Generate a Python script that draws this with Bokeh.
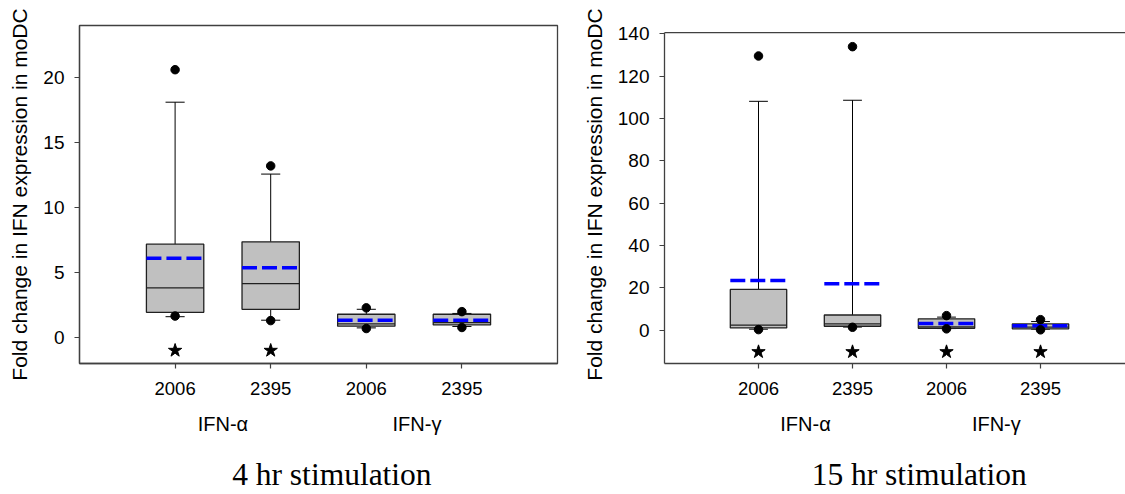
import numpy as np
from bokeh.plotting import figure
from bokeh.models import Range1d, FixedTicker, LinearAxis, Span
from bokeh.layouts import row
from bokeh.embed import file_html
from bokeh.resources import INLINE

# ---------------- data ----------------
positions = [1, 2, 3, 4]
tick_labels = ["2006", "2395", "2006", "2395"]
group_labels = ["IFN-α", "IFN-γ"]
group_pos = [1.5, 3.53]

# 4 hr stimulation
h4_q1 = [1.94, 2.17, 0.87, 0.97]
h4_med = [3.81, 4.14, 1.05, 1.15]
h4_q3 = [7.18, 7.36, 1.79, 1.79]
h4_lo = [1.60, 1.33, 0.74, 0.85]
h4_hi = [18.1, 12.57, 2.17, 1.85]
h4_mean = [6.10, 5.36, 1.33, 1.33]
h4_out_x = [1, 1, 2, 2, 3, 3, 4, 4]
h4_out_y = [20.6, 1.65, 13.2, 1.30, 2.28, 0.69, 1.99, 0.77]
h4_star_x = [1, 2]
h4_star_y = [-1.0, -1.0]

# 15 hr stimulation
h15_q1 = [1.1, 1.9, 0.95, 0.66]
h15_med = [2.4, 3.0, 1.6, 1.5]
h15_q3 = [19.3, 7.2, 5.4, 3.0]
h15_lo = [0.5, 1.5, 0.8, 0.5]
h15_hi = [108.1, 108.6, 6.2, 4.1]
h15_mean = [23.5, 22.0, 3.2, 2.07]
h15_out_x = [1, 1, 2, 2, 3, 3, 4, 4]
h15_out_y = [129.5, 0.3, 133.9, 1.4, 6.9, 0.66, 5.0, 0.2]
h15_star_x = [1, 2, 3, 4]
h15_star_y = [-10.2, -10.2, -10.2, -10.2]

SANS = "Liberation Sans"
SERIF = "Liberation Serif"
AXIS_COL = "#404040"


def draw_boxes(p, q1, med, q3, lo, hi, mean, ox, oy, sx, sy):
    x = np.array(positions, dtype=float)
    hw = 0.3
    cw = 0.1
    p.segment(x, q3, x, hi, line_color="black", line_width=1)
    p.segment(x, q1, x, lo, line_color="black", line_width=1)
    p.segment(x - cw, hi, x + cw, hi, line_color="black", line_width=1)
    p.segment(x - cw, lo, x + cw, lo, line_color="black", line_width=1)
    p.vbar(x=x, width=2 * hw, bottom=q1, top=q3, fill_color="#c0c0c0",
           line_color="#202020", line_width=1.3)
    p.segment(x - hw, med, x + hw, med, line_color="#202020", line_width=1.2)
    p.segment(x - hw, mean, x + hw, mean, line_color="#0000ff", line_width=3.5,
              line_dash="15 5")
    p.scatter(ox, oy, marker="circle", size=8.5, fill_color="black",
              line_color="black")
    p.scatter(sx, sy, marker="star", size=14, fill_color="black",
              line_color="black")


def text_axis(p, ticks, labels, font, size, standoff):
    ax = LinearAxis(ticker=FixedTicker(ticks=ticks),
                    major_label_overrides={t: l for t, l in zip(ticks, labels)},
                    axis_line_color=None, major_tick_line_color=None,
                    minor_tick_line_color=None, major_tick_out=0, major_tick_in=0,
                    major_label_standoff=standoff, major_label_text_font=font,
                    major_label_text_font_size=size, major_label_text_color="black")
    p.add_layout(ax, "below")


def style(p, yticks, label_standoff):
    p.xaxis.ticker = FixedTicker(ticks=positions)
    p.xaxis.major_label_overrides = {pos: lab for pos, lab in zip(positions, tick_labels)}
    p.yaxis.ticker = FixedTicker(ticks=yticks)
    for ax in (p.xaxis[0], p.yaxis[0]):
        ax.axis_line_color = AXIS_COL
        ax.axis_line_width = 1.3
        ax.major_tick_line_color = AXIS_COL
        ax.major_tick_line_width = 1.2
        ax.major_tick_out = 5
        ax.major_tick_in = 0
        ax.minor_tick_line_color = None
        ax.major_label_text_font = SANS
        ax.major_label_text_color = "black"
        ax.major_label_standoff = 10
    p.xaxis.major_label_standoff = 13
    p.xaxis.major_label_text_font_size = "18.5px"
    p.yaxis.major_label_text_font_size = "19px"
    p.yaxis.axis_label = "Fold change in IFN expression in moDC"
    p.yaxis.axis_label_text_font = SANS
    p.yaxis.axis_label_text_font_size = "21px"
    p.yaxis.axis_label_text_font_style = "normal"
    p.yaxis.axis_label_text_color = "black"
    p.yaxis.axis_label_standoff = label_standoff
    p.xgrid.visible = False
    p.ygrid.visible = False
    p.background_fill_color = "white"
    p.border_fill_color = "white"


# ---------------- left panel ----------------
p1 = figure(width=578, height=494, x_range=Range1d(0, 5), y_range=Range1d(-2, 24),
            output_backend="svg", toolbar_location=None,
            min_border_left=79, min_border_right=21, min_border_top=25,
            min_border_bottom=130)
style(p1, [0, 5, 10, 15, 20], 9)
p1.outline_line_color = AXIS_COL
p1.outline_line_width = 1.3
draw_boxes(p1, h4_q1, h4_med, h4_q3, h4_lo, h4_hi, h4_mean,
           h4_out_x, h4_out_y, h4_star_x, h4_star_y)
text_axis(p1, group_pos, group_labels, SANS, "20px", 15)
text_axis(p1, [2.64], ["4 hr stimulation"], SERIF, "31.5px", 19)

# ---------------- right panel ----------------
p2 = figure(width=547, height=494, x_range=Range1d(0, 4.904),
            y_range=Range1d(-15.7, 143.9),
            output_backend="svg", toolbar_location=None,
            min_border_left=86, min_border_right=0, min_border_top=25,
            min_border_bottom=130)
style(p2, [0, 20, 40, 60, 80, 100, 120, 140], 9)
p2.outline_line_color = None
p2.yaxis.bounds = (-15.7, 140.5)
p2.add_layout(Span(location=140.5, dimension="width", line_color=AXIS_COL,
                   line_width=1.3))
draw_boxes(p2, h15_q1, h15_med, h15_q3, h15_lo, h15_hi, h15_mean,
           h15_out_x, h15_out_y, h15_star_x, h15_star_y)
text_axis(p2, group_pos, group_labels, SANS, "20px", 15)
text_axis(p2, [2.71], ["15 hr stimulation"], SERIF, "31.5px", 19)

layout = row(p1, p2)
open("out.html", "w").write(file_html(layout, INLINE))
